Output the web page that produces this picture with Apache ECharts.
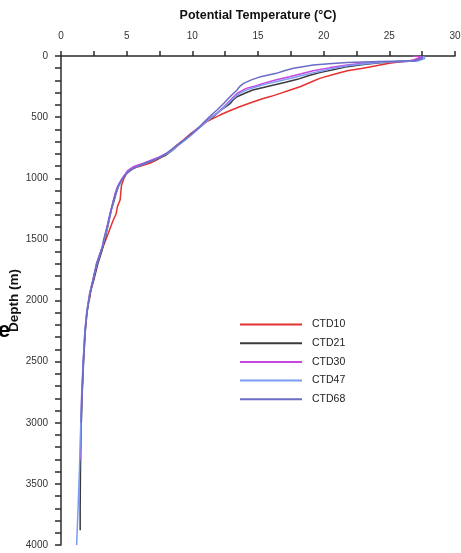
<!DOCTYPE html>
<html>
<head>
<meta charset="utf-8">
<title>Potential Temperature Profiles</title>
<script src="https://cdn.jsdelivr.net/npm/echarts@6/dist/echarts.min.js"></script>
<style>
  html, body { margin: 0; padding: 0; background: #fff; }
  #chart { width: 461px; height: 553px; }
</style>
</head>
<body>
<div id="chart"></div>
<script>
// Station profiles: depth (m) and potential temperature (°C) per cast
const stations = ['CTD10', 'CTD21', 'CTD30', 'CTD47', 'CTD68'];
const stationColors = ['#e4322f', '#3a3a3a', '#c447e0', '#7b9cf2', '#6a6cc6'];

const ctd10Depth = [0, 20, 35, 45, 60, 75, 100, 120, 150, 183, 215, 251, 280, 306, 330, 347, 380, 415, 450, 483, 510, 537, 580, 633, 680, 730, 770, 810, 850, 875, 895, 915, 940, 970, 1000, 1060, 1120, 1178, 1230, 1290, 1350, 1450, 1520, 1600, 1700, 1800, 1900, 2000];
const ctd10Temp = [27.3, 27.2, 26.9, 26.0, 25.0, 24.2, 23.0, 21.8, 20.8, 19.7, 19.0, 18.2, 17.4, 16.7, 16.0, 15.4, 14.5, 13.6, 12.8, 12.1, 11.6, 11.1, 10.6, 9.9, 9.4, 8.8, 8.4, 7.9, 7.3, 6.8, 6.2, 5.6, 5.2, 4.95, 4.8, 4.6, 4.55, 4.5, 4.3, 4.2, 3.95, 3.6, 3.35, 3.05, 2.75, 2.5, 2.3, 2.15];

const ctd21Depth = [0, 20, 40, 48, 55, 70, 87, 110, 136, 160, 191, 215, 237, 258, 278, 305, 333, 360, 387, 440, 497, 537, 580, 630, 680, 730, 770, 810, 840, 860, 875, 895, 920, 960, 1000, 1060, 1120, 1180, 1250, 1320, 1400, 1500, 1600, 1700, 1830, 1940, 2100, 2250, 2500, 2800, 3100, 3400, 3700, 3880];
const ctd21Temp = [27.4, 27.3, 27.0, 25.5, 24.3, 23.0, 21.8, 20.8, 19.7, 18.9, 18.0, 17.1, 16.2, 15.4, 14.6, 14.0, 13.4, 13.1, 12.9, 12.2, 11.6, 11.0, 10.6, 10.0, 9.5, 8.9, 8.5, 8.0, 7.4, 6.9, 6.5, 6.0, 5.5, 5.0, 4.7, 4.4, 4.2, 4.05, 3.85, 3.7, 3.55, 3.35, 3.1, 2.8, 2.5, 2.22, 1.98, 1.85, 1.72, 1.6, 1.52, 1.48, 1.46, 1.46];

const ctd30Depth = [0, 8, 22, 32, 42, 52, 62, 74, 95, 120, 145, 169, 195, 224, 245, 265, 306, 360, 415, 465, 510, 560, 610, 660, 710, 760, 800, 830, 855, 880, 906, 935, 970, 1010, 1070, 1130, 1200, 1280, 1400, 1500, 1600, 1700, 1830, 1940, 2100, 2250, 2500, 2800, 3100, 3300];
const ctd30Temp = [26.8, 27.6, 27.5, 26.8, 26.5, 24.3, 22.8, 21.8, 20.5, 19.2, 18.3, 17.4, 16.4, 15.4, 14.8, 14.1, 13.4, 12.9, 12.4, 11.9, 11.3, 10.8, 10.2, 9.7, 9.1, 8.6, 8.0, 7.4, 6.8, 6.2, 5.5, 5.1, 4.85, 4.6, 4.3, 4.1, 3.95, 3.75, 3.5, 3.3, 3.05, 2.75, 2.45, 2.2, 1.96, 1.82, 1.7, 1.58, 1.5, 1.48];

const ctd47Depth = [0, 20, 40, 50, 65, 80, 105, 130, 155, 180, 205, 230, 252, 275, 300, 320, 360, 400, 450, 500, 550, 600, 650, 700, 750, 790, 825, 850, 875, 900, 925, 960, 1000, 1060, 1120, 1180, 1250, 1330, 1420, 1500, 1560, 1700, 1830, 1940, 2100, 2250, 2500, 2800, 3100, 3400, 3700, 4000];
const ctd47Temp = [27.6, 27.7, 27.2, 24.6, 23.0, 21.8, 20.6, 19.5, 18.5, 17.6, 16.6, 15.6, 14.9, 14.2, 13.7, 13.4, 13.0, 12.6, 12.1, 11.5, 10.9, 10.4, 9.9, 9.3, 8.7, 8.2, 7.6, 7.1, 6.5, 5.9, 5.4, 5.0, 4.7, 4.4, 4.2, 4.0, 3.85, 3.7, 3.5, 3.3, 3.15, 2.7, 2.44, 2.18, 1.95, 1.82, 1.68, 1.56, 1.48, 1.4, 1.3, 1.19];

const ctd68Depth = [0, 20, 38, 46, 54, 63, 74, 88, 101, 120, 142, 155, 169, 195, 224, 250, 278, 330, 387, 440, 497, 550, 605, 650, 700, 750, 790, 830, 855, 880, 905, 930, 965, 1000, 1060, 1130, 1200, 1280, 1380, 1500, 1560, 1700, 1830, 1940, 2100, 2250, 2500, 2800, 3000];
const ctd68Temp = [27.5, 27.5, 27.0, 24.3, 21.8, 20.4, 19.2, 18.4, 17.7, 17.0, 16.4, 15.8, 15.2, 14.5, 13.9, 13.6, 13.4, 12.9, 12.4, 11.9, 11.3, 10.8, 10.3, 9.8, 9.2, 8.6, 8.1, 7.5, 7.0, 6.3, 5.8, 5.3, 4.95, 4.7, 4.35, 4.15, 3.95, 3.78, 3.55, 3.25, 3.15, 2.7, 2.44, 2.2, 1.97, 1.84, 1.7, 1.58, 1.54];

const depthArrays = [ctd10Depth, ctd21Depth, ctd30Depth, ctd47Depth, ctd68Depth];
const tempArrays = [ctd10Temp, ctd21Temp, ctd30Temp, ctd47Temp, ctd68Temp];

const chart = echarts.init(document.getElementById('chart'), null, { renderer: 'canvas' });

const axisColor = '#2b2b2b';
const fontStack = 'Liberation Sans, Arial, sans-serif';
const labelFont = { fontFamily: fontStack, fontSize: 10, color: '#333' };

const series = stations.map((name, i) => ({
  name: name,
  type: 'line',
  showSymbol: false,
  symbol: 'none',
  smooth: false,
  lineStyle: { width: 1.5, color: stationColors[i] },
  itemStyle: { color: stationColors[i] },
  data: depthArrays[i].map((d, k) => [tempArrays[i][k], d])
}));

chart.setOption({
  animation: false,
  backgroundColor: '#ffffff',
  grid: { left: 61, right: 6, top: 56, bottom: 8, containLabel: false, outerBoundsMode: 'none' },
  xAxis: {
    type: 'value',
    position: 'top',
    min: 0,
    max: 30,
    interval: 5,
    name: 'Potential Temperature (°C)',
    nameLocation: 'middle',
    nameGap: 34,
    nameMoveOverlap: false,
    nameTextStyle: { fontFamily: fontStack, fontSize: 12.5, fontWeight: 'bold', color: '#111' },
    axisLine: { show: true, onZero: false, lineStyle: { color: axisColor, width: 1.5 } },
    axisTick: { show: true, inside: false, length: 5, lineStyle: { color: axisColor, width: 1.5 } },
    minorTick: { show: true, splitNumber: 2, length: 5, lineStyle: { color: axisColor, width: 1.5 } },
    axisLabel: Object.assign({ margin: 15 }, labelFont),
    splitLine: { show: false },
    minorSplitLine: { show: false }
  },
  yAxis: {
    type: 'value',
    inverse: true,
    min: 0,
    max: 4000,
    interval: 500,
    name: 'Depth (m)',
    nameLocation: 'middle',
    nameGap: 40,
    nameMoveOverlap: false,
    nameRotate: 90,
    nameTextStyle: { fontFamily: fontStack, fontSize: 13.5, fontWeight: 'bold', color: '#111' },
    axisLine: { show: true, onZero: false, lineStyle: { color: axisColor, width: 1.5 } },
    axisTick: { show: true, inside: false, length: 6, lineStyle: { color: axisColor, width: 1.5 } },
    minorTick: { show: true, splitNumber: 5, length: 6, lineStyle: { color: axisColor, width: 1.5 } },
    axisLabel: Object.assign({ margin: 13, formatter: (v) => String(v) }, labelFont),
    splitLine: { show: false },
    minorSplitLine: { show: false }
  },
  legend: {
    orient: 'vertical',
    left: 240,
    top: 319,
    padding: 0,
    itemWidth: 62,
    itemHeight: 2,
    itemGap: 7.7,
    icon: 'rect',
    textStyle: { fontFamily: fontStack, fontSize: 10.5, color: '#222', padding: [0, 0, 0, 5] },
    data: stations
  },
  graphic: [
    {
      type: 'text',
      x: 4,
      y: 331,
      style: {
        text: 'e',
        font: 'bold 22px Liberation Sans, Arial, sans-serif',
        fill: '#000',
        textAlign: 'center',
        textVerticalAlign: 'middle'
      }
    }
  ],
  series: series
});
</script>
</body>
</html>
